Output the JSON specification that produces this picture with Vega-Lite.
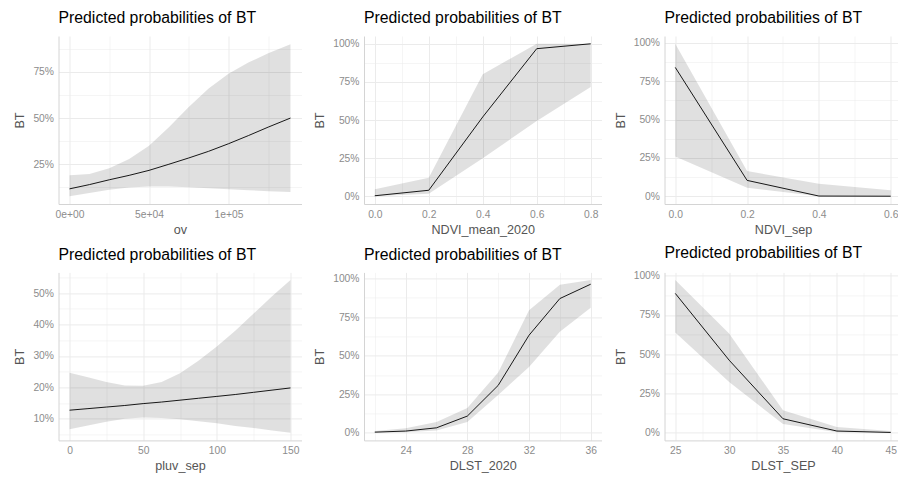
{
  "$schema": "https://vega.github.io/schema/vega-lite/v6.json",
  "background": "white",
  "padding": {"left": 13.5, "top": 10, "right": 0, "bottom": 0},
  "config": {
    "view": {"stroke": null},
    "font": "Liberation Sans",
    "title": {"anchor": "start", "frame": "group", "fontSize": 15.8, "font": "Liberation Sans", "fontWeight": "normal", "color": "#000000", "baseline": "alphabetic", "offset": 9},
    "axis": {
      "labelFont": "Liberation Sans", "labelFontSize": 10.3, "labelColor": "#8c8c8c",
      "titleFont": "Liberation Sans", "titleFontSize": 12.6, "titleColor": "#555555", "titleFontWeight": "normal",
      "ticks": false, "tickSize": 0, "labelPadding": 5, "titlePadding": 6,
      "domainColor": "#d4d4d4", "domainWidth": 1,
      "grid": true, "gridColor": "#ebebeb", "labelFlush": false, "labelOverlap": false
    },
    "axisX": {"titlePadding": 4},
    "area": {"color": "#000000", "opacity": 0.12},
    "line": {"color": "#000000", "strokeWidth": 0.9}
  },
  "datasets": {
    "ov": [
      {"ov": 0, "predicted": 0.117, "conf_low": 0.077, "conf_high": 0.19},
      {"ov": 12500, "predicted": 0.14, "conf_low": 0.095, "conf_high": 0.198},
      {"ov": 25000, "predicted": 0.166, "conf_low": 0.112, "conf_high": 0.228},
      {"ov": 37500, "predicted": 0.19, "conf_low": 0.124, "conf_high": 0.278},
      {"ov": 50000, "predicted": 0.217, "conf_low": 0.13, "conf_high": 0.35},
      {"ov": 62500, "predicted": 0.25, "conf_low": 0.13, "conf_high": 0.45},
      {"ov": 75000, "predicted": 0.284, "conf_low": 0.126, "conf_high": 0.56},
      {"ov": 87500, "predicted": 0.32, "conf_low": 0.12, "conf_high": 0.66},
      {"ov": 100000, "predicted": 0.361, "conf_low": 0.115, "conf_high": 0.74},
      {"ov": 112500, "predicted": 0.405, "conf_low": 0.11, "conf_high": 0.8},
      {"ov": 125000, "predicted": 0.451, "conf_low": 0.104, "conf_high": 0.85},
      {"ov": 139000, "predicted": 0.5, "conf_low": 0.1, "conf_high": 0.9}
    ],
    "ndvi_mean": [
      {"NDVI_mean_2020": 0.0, "predicted": 0.004, "conf_low": 0.0, "conf_high": 0.046},
      {"NDVI_mean_2020": 0.2, "predicted": 0.04, "conf_low": 0.017, "conf_high": 0.122},
      {"NDVI_mean_2020": 0.4, "predicted": 0.52, "conf_low": 0.25, "conf_high": 0.8},
      {"NDVI_mean_2020": 0.6, "predicted": 0.967, "conf_low": 0.493, "conf_high": 1.0},
      {"NDVI_mean_2020": 0.8, "predicted": 0.999, "conf_low": 0.716, "conf_high": 1.0}
    ],
    "ndvi_sep": [
      {"NDVI_sep": 0.0, "predicted": 0.839, "conf_low": 0.26, "conf_high": 0.993},
      {"NDVI_sep": 0.2, "predicted": 0.104, "conf_low": 0.056, "conf_high": 0.165},
      {"NDVI_sep": 0.4, "predicted": 0.002, "conf_low": 0.0, "conf_high": 0.082},
      {"NDVI_sep": 0.6, "predicted": 0.001, "conf_low": 0.0, "conf_high": 0.039}
    ],
    "pluv": [
      {"pluv_sep": 0, "predicted": 0.127, "conf_low": 0.066, "conf_high": 0.246},
      {"pluv_sep": 12.5, "predicted": 0.132, "conf_low": 0.078, "conf_high": 0.232},
      {"pluv_sep": 25, "predicted": 0.137, "conf_low": 0.09, "conf_high": 0.217},
      {"pluv_sep": 37.5, "predicted": 0.142, "conf_low": 0.1, "conf_high": 0.206},
      {"pluv_sep": 50, "predicted": 0.148, "conf_low": 0.104, "conf_high": 0.205},
      {"pluv_sep": 62.5, "predicted": 0.153, "conf_low": 0.102, "conf_high": 0.217},
      {"pluv_sep": 75, "predicted": 0.159, "conf_low": 0.098, "conf_high": 0.245},
      {"pluv_sep": 87.5, "predicted": 0.165, "conf_low": 0.092, "conf_high": 0.285},
      {"pluv_sep": 100, "predicted": 0.171, "conf_low": 0.085, "conf_high": 0.33},
      {"pluv_sep": 112.5, "predicted": 0.177, "conf_low": 0.077, "conf_high": 0.38},
      {"pluv_sep": 125, "predicted": 0.184, "conf_low": 0.07, "conf_high": 0.435},
      {"pluv_sep": 137.5, "predicted": 0.191, "conf_low": 0.062, "conf_high": 0.49},
      {"pluv_sep": 150, "predicted": 0.198, "conf_low": 0.055, "conf_high": 0.542}
    ],
    "dlst2020": [
      {"DLST_2020": 22, "predicted": 0.004, "conf_low": 0.001, "conf_high": 0.011},
      {"DLST_2020": 24, "predicted": 0.011, "conf_low": 0.003, "conf_high": 0.03},
      {"DLST_2020": 26, "predicted": 0.032, "conf_low": 0.015, "conf_high": 0.069},
      {"DLST_2020": 28, "predicted": 0.108, "conf_low": 0.07, "conf_high": 0.16},
      {"DLST_2020": 30, "predicted": 0.307, "conf_low": 0.245, "conf_high": 0.39},
      {"DLST_2020": 32, "predicted": 0.632, "conf_low": 0.426, "conf_high": 0.794},
      {"DLST_2020": 34, "predicted": 0.87, "conf_low": 0.654, "conf_high": 0.96},
      {"DLST_2020": 36, "predicted": 0.963, "conf_low": 0.81, "conf_high": 0.99}
    ],
    "dlstsep": [
      {"DLST_SEP": 25, "predicted": 0.887, "conf_low": 0.638, "conf_high": 0.972},
      {"DLST_SEP": 30, "predicted": 0.462, "conf_low": 0.323, "conf_high": 0.632},
      {"DLST_SEP": 35, "predicted": 0.089, "conf_low": 0.055, "conf_high": 0.143},
      {"DLST_SEP": 40, "predicted": 0.011, "conf_low": 0.004, "conf_high": 0.036},
      {"DLST_SEP": 45, "predicted": 0.002, "conf_low": 0.0, "conf_high": 0.011}
    ]
  },
  "columns": 3,
  "bounds": "flush",
  "align": "each",
  "spacing": {"row": 68.4, "column": 62.5},
  "concat": [
    {
      "title": "Predicted probabilities of BT",
      "width": 243, "height": 168,
      "data": {"name": "ov"},
      "encoding": {
        "x": {"field": "ov", "type": "quantitative", "title": "ov",
              "scale": {"domain": [-6950, 145950], "nice": false, "zero": false},
              "axis": {"values": [0, 25000, 50000, 75000, 100000, 125000],
                       "labelExpr": "datum.value == 0 ? '0e+00' : datum.value == 50000 ? '5e+04' : datum.value == 100000 ? '1e+05' : ''",
                       "gridWidth": {"condition": {"test": "datum.value % 50000 != 0", "value": 0.5}, "value": 1}}},
        "y": {"field": "predicted", "type": "quantitative", "title": "BT",
              "scale": {"domain": [0.035, 0.944], "nice": false, "zero": false},
              "axis": {"values": [0.125, 0.25, 0.375, 0.5, 0.625, 0.75, 0.875], "format": ".0%",
                       "labelExpr": "datum.value % 0.25 == 0 ? datum.label : ''",
                       "gridWidth": {"condition": {"test": "datum.value % 0.25 != 0", "value": 0.5}, "value": 1}}}
      },
      "layer": [
        {"mark": "area", "encoding": {"y": {"field": "conf_low", "type": "quantitative"}, "y2": {"field": "conf_high"}}},
        {"mark": "line"}
      ]
    },
    {
      "title": "Predicted probabilities of BT",
      "width": 237.5, "height": 168,
      "data": {"name": "ndvi_mean"},
      "encoding": {
        "x": {"field": "NDVI_mean_2020", "type": "quantitative", "title": "NDVI_mean_2020",
              "scale": {"domain": [-0.04, 0.84], "nice": false, "zero": false},
              "axis": {"values": [0, 0.1, 0.2, 0.3, 0.4, 0.5, 0.6, 0.7, 0.8], "format": ".1f",
                       "labelExpr": "indexof([0, 0.2, 0.4, 0.6, 0.8], datum.value) >= 0 ? datum.label : ''",
                       "gridWidth": {"condition": {"test": "indexof([0, 0.2, 0.4, 0.6, 0.8], datum.value) < 0", "value": 0.5}, "value": 1}}},
        "y": {"field": "predicted", "type": "quantitative", "title": "BT",
              "scale": {"domain": [-0.05, 1.05], "nice": false, "zero": false},
              "axis": {"values": [0, 0.125, 0.25, 0.375, 0.5, 0.625, 0.75, 0.875, 1], "format": ".0%",
                       "labelExpr": "datum.value % 0.25 == 0 ? datum.label : ''",
                       "gridWidth": {"condition": {"test": "datum.value % 0.25 != 0", "value": 0.5}, "value": 1}}}
      },
      "layer": [
        {"mark": "area", "encoding": {"y": {"field": "conf_low", "type": "quantitative"}, "y2": {"field": "conf_high"}}},
        {"mark": "line"}
      ]
    },
    {
      "title": "Predicted probabilities of BT",
      "width": 237, "height": 168,
      "data": {"name": "ndvi_sep"},
      "encoding": {
        "x": {"field": "NDVI_sep", "type": "quantitative", "title": "NDVI_sep",
              "scale": {"domain": [-0.03, 0.63], "nice": false, "zero": false},
              "axis": {"values": [0, 0.1, 0.2, 0.3, 0.4, 0.5, 0.6], "format": ".1f",
                       "labelExpr": "indexof([0, 0.2, 0.4, 0.6], datum.value) >= 0 ? datum.label : ''",
                       "gridWidth": {"condition": {"test": "indexof([0, 0.2, 0.4, 0.6], datum.value) < 0", "value": 0.5}, "value": 1}}},
        "y": {"field": "predicted", "type": "quantitative", "title": "BT",
              "scale": {"domain": [-0.0497, 1.0434], "nice": false, "zero": false},
              "axis": {"values": [0, 0.125, 0.25, 0.375, 0.5, 0.625, 0.75, 0.875, 1], "format": ".0%",
                       "labelExpr": "datum.value % 0.25 == 0 ? datum.label : ''",
                       "gridWidth": {"condition": {"test": "datum.value % 0.25 != 0", "value": 0.5}, "value": 1}}}
      },
      "layer": [
        {"mark": "area", "encoding": {"y": {"field": "conf_low", "type": "quantitative"}, "y2": {"field": "conf_high"}}},
        {"mark": "line"}
      ]
    },
    {
      "title": "Predicted probabilities of BT",
      "width": 243, "height": 168,
      "data": {"name": "pluv"},
      "encoding": {
        "x": {"field": "pluv_sep", "type": "quantitative", "title": "pluv_sep",
              "scale": {"domain": [-7.5, 157.5], "nice": false, "zero": false},
              "axis": {"values": [0, 25, 50, 75, 100, 125, 150],
                       "labelExpr": "datum.value % 50 == 0 ? datum.label : ''",
                       "gridWidth": {"condition": {"test": "datum.value % 50 != 0", "value": 0.5}, "value": 1}}},
        "y": {"field": "predicted", "type": "quantitative", "title": "BT",
              "scale": {"domain": [0.0307, 0.5663], "nice": false, "zero": false},
              "axis": {"values": [0.05, 0.1, 0.15, 0.2, 0.25, 0.3, 0.35, 0.4, 0.45, 0.5, 0.55], "format": ".0%",
                       "labelExpr": "indexof([0.1, 0.2, 0.3, 0.4, 0.5], datum.value) >= 0 ? datum.label : ''",
                       "gridWidth": {"condition": {"test": "indexof([0.1, 0.2, 0.3, 0.4, 0.5], datum.value) < 0", "value": 0.5}, "value": 1}}}
      },
      "layer": [
        {"mark": "area", "encoding": {"y": {"field": "conf_low", "type": "quantitative"}, "y2": {"field": "conf_high"}}},
        {"mark": "line"}
      ]
    },
    {
      "title": "Predicted probabilities of BT",
      "width": 237.5, "height": 168,
      "data": {"name": "dlst2020"},
      "encoding": {
        "x": {"field": "DLST_2020", "type": "quantitative", "title": "DLST_2020",
              "scale": {"domain": [21.3, 36.7], "nice": false, "zero": false},
              "axis": {"values": [22, 24, 26, 28, 30, 32, 34, 36],
                       "labelExpr": "datum.value % 4 == 0 ? datum.label : ''",
                       "gridWidth": {"condition": {"test": "datum.value % 4 != 0", "value": 0.5}, "value": 1}}},
        "y": {"field": "predicted", "type": "quantitative", "title": "BT",
              "scale": {"domain": [-0.0495, 1.0395], "nice": false, "zero": false},
              "axis": {"values": [0, 0.125, 0.25, 0.375, 0.5, 0.625, 0.75, 0.875, 1], "format": ".0%",
                       "labelExpr": "datum.value % 0.25 == 0 ? datum.label : ''",
                       "gridWidth": {"condition": {"test": "datum.value % 0.25 != 0", "value": 0.5}, "value": 1}}}
      },
      "layer": [
        {"mark": "area", "encoding": {"y": {"field": "conf_low", "type": "quantitative"}, "y2": {"field": "conf_high"}}},
        {"mark": "line"}
      ]
    },
    {
      "title": "Predicted probabilities of BT",
      "width": 237, "height": 168,
      "data": {"name": "dlstsep"},
      "encoding": {
        "x": {"field": "DLST_SEP", "type": "quantitative", "title": "DLST_SEP",
              "scale": {"domain": [24, 46], "nice": false, "zero": false},
              "axis": {"values": [25, 27.5, 30, 32.5, 35, 37.5, 40, 42.5, 45],
                       "labelExpr": "datum.value % 5 == 0 ? datum.label : ''",
                       "gridWidth": {"condition": {"test": "datum.value % 5 != 0", "value": 0.5}, "value": 1}}},
        "y": {"field": "predicted", "type": "quantitative", "title": "BT",
              "scale": {"domain": [-0.0486, 1.0206], "nice": false, "zero": false},
              "axis": {"values": [0, 0.125, 0.25, 0.375, 0.5, 0.625, 0.75, 0.875, 1], "format": ".0%",
                       "labelExpr": "datum.value % 0.25 == 0 ? datum.label : ''",
                       "gridWidth": {"condition": {"test": "datum.value % 0.25 != 0", "value": 0.5}, "value": 1}}}
      },
      "layer": [
        {"mark": "area", "encoding": {"y": {"field": "conf_low", "type": "quantitative"}, "y2": {"field": "conf_high"}}},
        {"mark": "line"}
      ]
    }
  ]
}
